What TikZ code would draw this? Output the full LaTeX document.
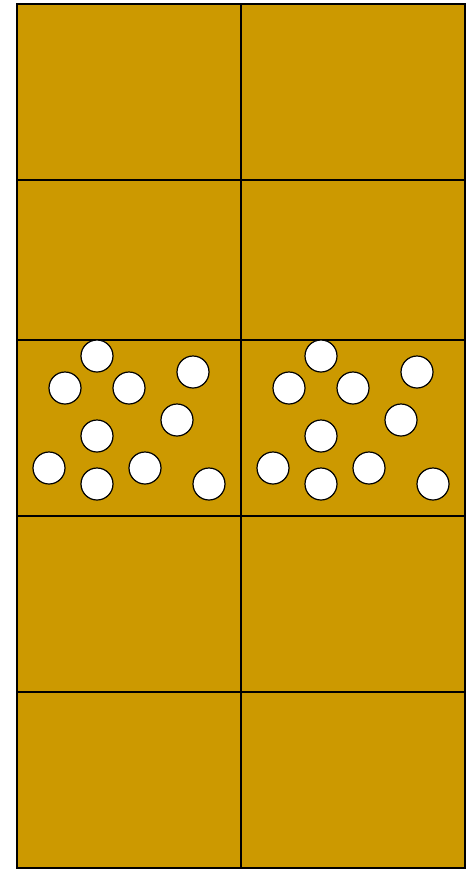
\documentclass[tikz,border=0pt]{standalone}
\usepackage{tikz}
\definecolor{ochre}{HTML}{CC9900}

\begin{document}
\begin{tikzpicture}[
  x=1pt,
  y=-1pt,
  cell/.style={
    draw=black,
    line width=1.5pt,
    fill=ochre
  },
  grain/.style={
    draw=black,
    line width=1.2pt,
    fill=white
  }
]

\useasboundingbox (0,0) rectangle (475,870);

% cells
\foreach \ytop/\ybot in {4/180,180/340,340/516,516/692,692/868} {
  \draw[cell] (17,\ytop) rectangle (241,\ybot);
  \draw[cell] (241,\ytop) rectangle (465,\ybot);
}

% grains in the middle band
\foreach \dx in {0,224} {
  \foreach \gx/\gy in {97/356,65/388,129/388,193/372,177/420,
                       97/436,49/468,97/484,145/468,209/484} {
    \draw[grain] (\gx+\dx,\gy) circle[radius=16];
  }
}

\end{tikzpicture}
\end{document}
